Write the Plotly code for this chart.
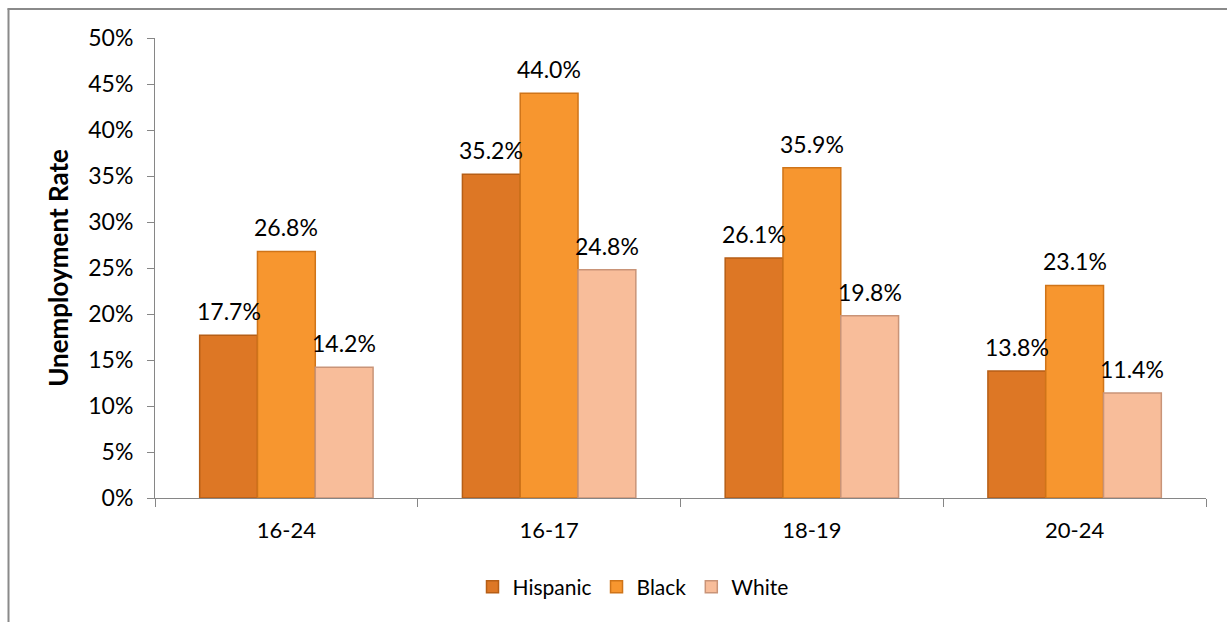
import plotly.graph_objects as go

categories = ["16-24", "16-17", "18-19", "20-24"]
hispanic = [0.177, 0.352, 0.261, 0.138]
black = [0.268, 0.440, 0.359, 0.231]
white = [0.142, 0.248, 0.198, 0.114]
series_names = ["Hispanic", "Black", "White"]
y_ticks = [0.0, 0.05, 0.10, 0.15, 0.20, 0.25, 0.30, 0.35, 0.40, 0.45, 0.50]

W, H = 1227, 622
ML, MR, MT, MB = 155, 21, 38, 124
BARGAP = 0.34
FONT = "Lato"

fills = ["#DD7725", "#F7962F", "#F8BD9A"]
edges = ["#B65E16", "#CF7419", "#C99478"]

fig = go.Figure()
for name, vals, fc, ec in zip(series_names, [hispanic, black, white], fills, edges):
    fig.add_trace(go.Bar(
        x=categories, y=vals, name=name,
        marker=dict(color=fc, line=dict(color=ec, width=1.5)),
    ))

plot_w = W - ML - MR
plot_h = H - MT - MB
bw = plot_w / len(categories) * (1 - BARGAP) / 3

annotations = []
for i, vals in enumerate([hispanic, black, white]):
    for c, v in zip(categories, vals):
        annotations.append(dict(
            x=c, y=v, xref="x", yref="y", text=f"{v*100:.1f}%",
            showarrow=False, yanchor="bottom", xshift=(i - 1) * bw, yshift=8,
            font=dict(family=FONT, size=23, color="#000000"),
        ))

def px_to_paper_x(px):
    return (px - ML) / plot_w

def px_to_paper_y(py):
    return (H - MB - py) / plot_h

shapes = [
    dict(type="line", xref="paper", yref="paper",
         x0=px_to_paper_x(8.5), x1=px_to_paper_x(8.5),
         y0=px_to_paper_y(8.5), y1=px_to_paper_y(640),
         line=dict(color="#8A8A8A", width=2)),
    dict(type="line", xref="paper", yref="paper",
         x0=px_to_paper_x(7.5), x1=px_to_paper_x(1240),
         y0=px_to_paper_y(9), y1=px_to_paper_y(9),
         line=dict(color="#8A8A8A", width=2)),
]

fig.update_layout(
    width=W, height=H,
    margin=dict(l=ML, r=MR, t=MT, b=MB),
    paper_bgcolor="white", plot_bgcolor="white",
    barmode="group", bargap=BARGAP, bargroupgap=0,
    font=dict(family=FONT, size=22, color="#000000"),
    showlegend=True,
    legend=dict(orientation="h", x=px_to_paper_x(633), xanchor="center",
                y=px_to_paper_y(587), yanchor="middle",
                font=dict(family=FONT, size=21, color="#000000"),
                itemwidth=30, traceorder="normal"),
    annotations=annotations,
    shapes=shapes,
)
fig.update_xaxes(
    showline=True, linecolor="#868686", linewidth=1,
    ticks="outside", tickson="boundaries", ticklen=8, tickcolor="#868686",
    tickfont=dict(family=FONT, size=22, color="#000000"),
    ticklabelstandoff=13,
    showgrid=False, zeroline=False,
)
fig.update_yaxes(
    range=[0, 0.5], tickvals=y_ticks, tickformat=".0%",
    showline=True, linecolor="#868686", linewidth=1,
    ticks="outside", ticklen=7, tickcolor="#868686",
    tickfont=dict(family=FONT, size=23, color="#000000"),
    ticklabelstandoff=9,
    showgrid=False, zeroline=False,
    title=dict(text="<b>Unemployment Rate</b>", standoff=12,
               font=dict(family=FONT, size=26, color="#000000")),
)

fig.write_html("out.html")
